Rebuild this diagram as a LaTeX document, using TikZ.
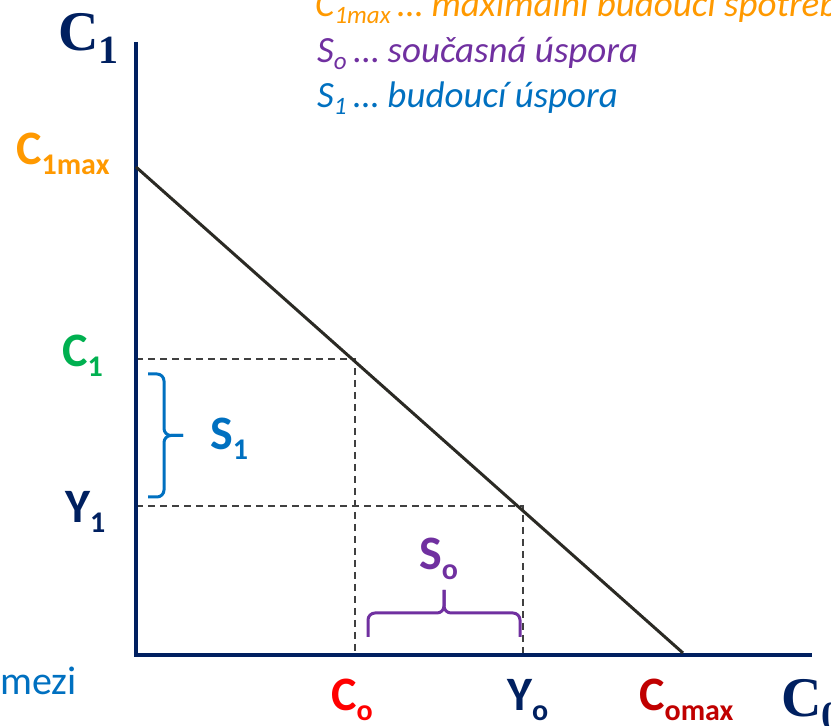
\documentclass[tikz,border=0pt]{standalone}
\usepackage{fontspec}
\setmainfont{Carlito}
\newfontfamily\axisserif{Liberation Serif}
\definecolor{AxisNavy}{HTML}{002060}
\definecolor{BudgetInk}{HTML}{2B2A24}
\definecolor{GuideGray}{HTML}{404040}
\definecolor{MaxOrange}{HTML}{FF9900}
\definecolor{CGreen}{HTML}{00B050}
\definecolor{SBlue}{HTML}{0070C0}
\definecolor{SPurple}{HTML}{7030A0}
\definecolor{CRed}{HTML}{FF0000}
\definecolor{CDarkRed}{HTML}{C00000}
\newcommand{\lblsub}[1]{\raisebox{-10pt}[0pt][0pt]{\fontsize{30}{32}\selectfont #1}}
\newcommand{\notesub}[1]{\raisebox{-7pt}[0pt][0pt]{\fontsize{25}{28}\selectfont #1}\hspace{7pt}}
\newcommand{\serifsub}[1]{\raisebox{-13pt}[0pt][0pt]{\fontsize{40}{44}\selectfont #1}}
\tikzset{
  axisline/.style={draw=AxisNavy, line width=4pt},
  budget/.style={draw=BudgetInk, line width=3pt},
  guide/.style={draw=GuideGray, line width=1.3pt, dash pattern=on 7pt off 5pt},
  sbrace/.style={line width=3pt, rounded corners=7pt},
  lbl/.style={anchor=base west, inner sep=0pt, font=\fontsize{48}{56}\selectfont\bfseries},
  note/.style={anchor=base west, inner sep=0pt, font=\fontsize{37}{44}\selectfont\itshape},
  axislbl/.style={anchor=base west, inner sep=0pt, font=\fontsize{56}{64}\selectfont\axisserif\bfseries}
}
\begin{document}
\begin{tikzpicture}[x=1pt, y=1pt]
\useasboundingbox (0,0) rectangle (831,726);
% axes and points on the budget line
\coordinate (O) at (136,71);
\coordinate (ytop) at (136,684);
\coordinate (xend) at (812,71);
\coordinate (bstart) at (136,559);
\coordinate (bend) at (683,73);
\coordinate (c1pt) at (355,367);
\coordinate (y1pt) at (523,220);
% dashed guides
\draw[guide] (O |- c1pt) -- (c1pt) -- (c1pt |- O);
\draw[guide] (O |- y1pt) -- (y1pt) -- (y1pt |- O);
% axes
\draw[axisline] (ytop) -- (O) -- (xend);
% budget line
\draw[budget] (bstart) -- (bend);
% braces (S1 vertical, So horizontal)
\draw[sbrace, draw=SBlue] (148,352) -- (164,352) -- (164,290.5) -- (183,290.5);
\draw[sbrace, draw=SBlue] (148,229) -- (164,229) -- (164,290.5) -- (183,290.5);
\draw[sbrace, draw=SPurple] (368,89) -- (368,113) -- (444,113) -- (444,136);
\draw[sbrace, draw=SPurple] (520,89) -- (520,113) -- (444,113) -- (444,136);
% axis names
\node[axislbl, text=AxisNavy] (axC1) at (58,675) {C\serifsub{1}};
\node[axislbl, text=AxisNavy] (axC0) at (781,9) {C\serifsub{0}};
% labels on the vertical axis
\node[lbl, text=MaxOrange] (lblCmax) at (16,561) {C\lblsub{1max}};
\node[lbl, text=CGreen] (lblC1) at (62,359) {C\lblsub{1}};
\node[lbl, text=AxisNavy] (lblY1) at (65,203) {Y\lblsub{1}};
\node[lbl, text=SBlue] (lblS1) at (210,276) {S\lblsub{1}};
% labels on the horizontal axis
\node[lbl, text=SPurple] (lblSo) at (419,156) {S\lblsub{o}};
\node[lbl, text=CRed] (lblCo) at (331,15) {C\lblsub{o}};
\node[lbl, text=AxisNavy] (lblYo) at (507,15) {Y\lblsub{o}};
\node[lbl, text=CDarkRed] (lblComax) at (639,15) {C\lblsub{omax}};
% legend
\node[note, text=MaxOrange] (noteCmax) at (315,709) {C\notesub{1max}… maximální budoucí spotřeba};
\node[note, text=SPurple] (noteSo) at (317,663) {S\notesub{o}… současná úspora};
\node[note, text=SBlue] (noteS1) at (317,618) {S\notesub{1}… budoucí úspora};
\node[anchor=base west, inner sep=0pt, text=SBlue, font=\fontsize{40}{44}\selectfont] (noteMezi) at (0,31) {mezi};
\end{tikzpicture}
\end{document}
